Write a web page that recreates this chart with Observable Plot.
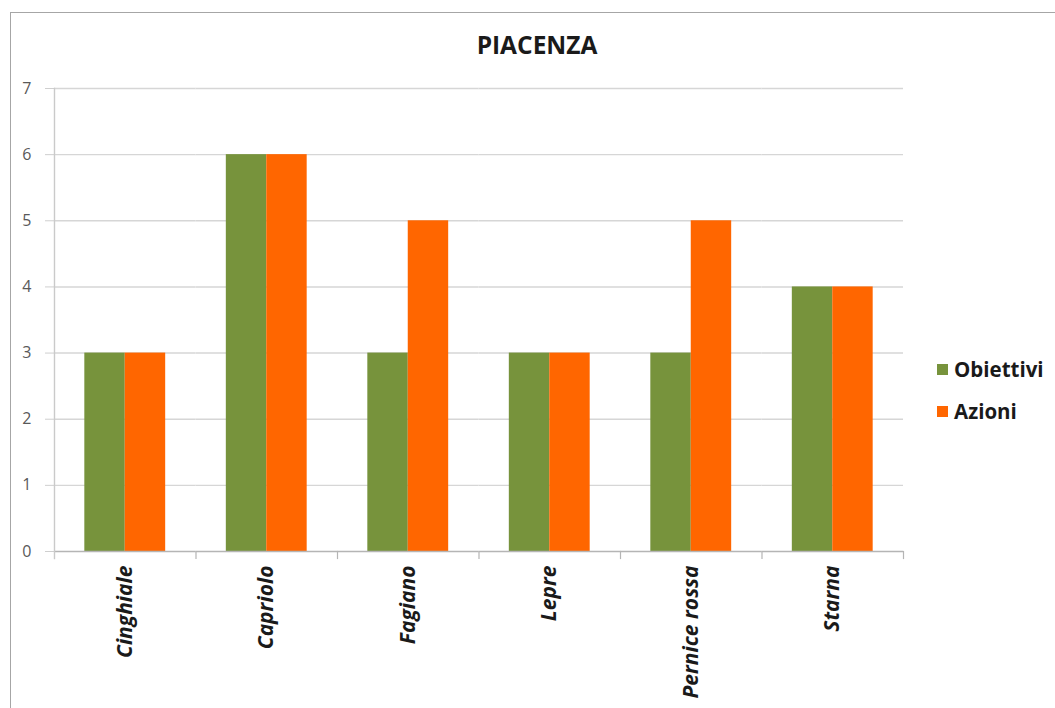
<!DOCTYPE html>
<html><head><meta charset="utf-8">
<script src="https://cdn.jsdelivr.net/npm/d3@7"></script>
<script src="https://cdn.jsdelivr.net/npm/@observablehq/plot@0.6"></script>
<style>
body{margin:0;background:#fff;overflow:hidden;font-family:"Open Sans",sans-serif;}
#wrap{position:relative;width:1055px;height:708px;overflow:hidden;}
#border{position:absolute;left:10px;top:12px;width:1100px;height:800px;border-left:1.5px solid #a6a6a6;border-top:1.5px solid #a6a6a6;}
#title{position:absolute;left:10px;width:1054px;top:28px;text-align:center;font-weight:bold;font-size:24.5px;color:#1a1a1a;}
#chart{position:absolute;left:0;top:0;}
#legend{position:absolute;left:937px;top:348px;}
.item{display:flex;align-items:center;height:42px;font-weight:bold;font-size:20.5px;color:#1a1a1a;}
.sw{width:11px;height:11px;margin-right:6px;}
</style>
</head><body>
<div id="wrap">
  <div id="border"></div>
  <div id="chart"></div>
  <div id="title">PIACENZA</div>
  <div id="legend"></div>
</div>
<script>
const categories = ["Cinghiale","Capriolo","Fagiano","Lepre","Pernice rossa","Starna"];
const series = ["Obiettivi","Azioni"];
const obiettivi = [3,6,3,3,3,4];
const azioni = [3,6,5,3,5,4];
const colors = ["#77933C","#FF6600"];
const yTicks = [0,1,2,3,4,5,6,7];

const values = [obiettivi, azioni];
const data = [];
categories.forEach((c,i)=>series.forEach((s,j)=>data.push({category:c, series:s, value:values[j][i]})));

const W = 1055, H = 708, mT = 88, mB = 157, mL = 54, mR = 152;
const plotH = H - mT - mB;

const chart = Plot.plot({
  width: W, height: H,
  marginLeft: mL, marginRight: mR, marginTop: mT, marginBottom: mB,
  style: {fontFamily: "'Open Sans', sans-serif", background: "transparent"},
  fx: {domain: categories, padding: 0, round: false, label: null},
  x: {domain: series, paddingInner: 0, paddingOuter: 0.75, round: false, axis: null},
  y: {domain: [0, 7], label: null},
  color: {domain: series, range: colors},
  marks: [
    Plot.ruleY(yTicks.filter(v => v > 0), {stroke: "#d6d6d6", strokeWidth: 1.4}),
    Plot.axisY({ticks: yTicks, tickSize: 9, tickPadding: 14, stroke: "#cfcfcf", fill: "#595959", fontSize: 16, label: null, tickFormat: d => d}),
    Plot.barY(data, {fx: "category", x: "series", y: "value", fill: "series"}),
    Plot.ruleY([0], {stroke: "#b5b5b5", strokeWidth: 1.4}),
    Plot.frame({anchor: "left", facet: "super", stroke: "#cacaca", strokeWidth: 1.4, insetBottom: -7}),
    Plot.frame({anchor: "right", stroke: "#b5b5b5", strokeWidth: 1.2, insetTop: plotH, insetBottom: -7}),
    Plot.axisFx({anchor: "bottom", tickSize: 0, tickRotate: -90, tickPadding: 14, fontWeight: "bold", fontStyle: "italic", fontSize: 21, fill: "#1a1a1a", label: null})
  ]
});
document.getElementById("chart").appendChild(chart);

const legend = document.getElementById("legend");
series.forEach((s, j) => {
  const it = document.createElement("div");
  it.className = "item";
  const sw = document.createElement("div");
  sw.className = "sw";
  sw.style.background = colors[j];
  const t = document.createElement("span");
  t.textContent = s;
  it.appendChild(sw); it.appendChild(t);
  legend.appendChild(it);
});
</script>
</body></html>
